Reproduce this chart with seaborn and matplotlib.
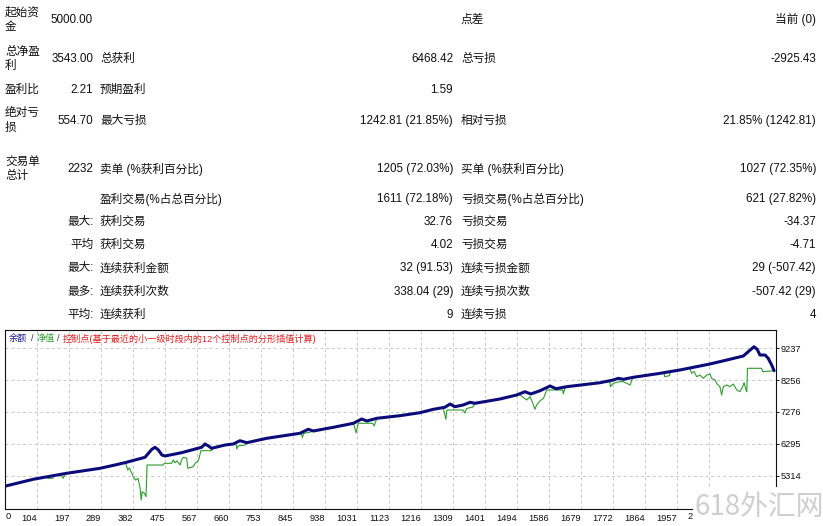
import seaborn as sns
import matplotlib.pyplot as plt
from matplotlib.patches import Rectangle

# ---- summary table ----
top_labels = ["起始资\n金", "总净盈\n利", "盈利比", "绝对亏\n损", "交易单\n总计"]
top_values = ["5000.00", "3543.00", "2.21", "554.70", "2232"]
mid_labels = ["", "总获利", "预期盈利", "最大亏损", "卖单 (%获利百分比)"]
mid_values = ["", "6468.42", "1.59", "1242.81 (21.85%)", "1205 (72.03%)"]
right_labels = ["点差", "总亏损", "", "相对亏损", "买单 (%获利百分比)"]
right_values = ["当前 (0)", "-2925.43", "", "21.85% (1242.81)", "1027 (72.35%)"]

prefixes = ["", "最大:", "平均", "最大:", "最多:", "平均:"]
win_labels = ["盈利交易(%占总百分比)", "获利交易", "获利交易", "连续获利金额", "连续获利次数", "连续获利"]
win_values = ["1611 (72.18%)", "32.76", "4.02", "32 (91.53)", "338.04 (29)", "9"]
loss_labels = ["亏损交易(%占总百分比)", "亏损交易", "亏损交易", "连续亏损金额", "连续亏损次数", "连续亏损"]
loss_values = ["621 (27.82%)", "-34.37", "-4.71", "29 (-507.42)", "-507.42 (29)", "4"]

# ---- balance / equity curves (trade number, account value) ----
balance_x = [10, 92, 189, 286, 329, 358, 416, 426, 436, 445, 455, 465, 474, 522, 580,
             590, 600, 609, 648, 672, 691, 711, 769, 865, 889, 904, 962, 1020, 1044,
             1059, 1088, 1155, 1213, 1252, 1285, 1300, 1314, 1338, 1358, 1372, 1445,
             1493, 1517, 1534, 1561, 1590, 1607, 1638, 1735, 1773, 1788, 1802, 1831,
             1909, 1966, 2053, 2102, 2150, 2164, 2181, 2190, 2198, 2213, 2222, 2232, 2239]
balance_y = [5000, 5213, 5397, 5550, 5651, 5722, 5887, 6010, 6133, 6194, 6111, 5958, 5927,
             6028, 6194, 6295, 6234, 6163, 6264, 6295, 6396, 6335, 6470, 6623, 6746, 6694,
             6807, 6930, 7061, 7000, 7083, 7163, 7255, 7359, 7420, 7521, 7438, 7491, 7573,
             7543, 7675, 7797, 7898, 7828, 7929, 8073, 7990, 8052, 8174, 8257, 8309, 8278,
             8340, 8462, 8564, 8747, 8870, 8993, 9124, 9278, 9198, 9023, 9023, 8922, 8717, 8543]

equity_x = [10, 92, 130, 135, 149, 152, 172, 179, 184, 189, 286, 329, 360, 366, 371, 378,
            382, 389, 396, 402, 405, 408, 414, 419, 422, 469, 472, 493, 498, 503, 509, 518,
            522, 527, 537, 540, 556, 561, 569, 572, 578, 609, 612, 648, 672, 681, 682, 686,
            706, 711, 769, 865, 869, 872, 876, 895, 904, 962, 1020, 1028, 1034, 1076, 1080,
            1086, 1088, 1155, 1213, 1252, 1280, 1288, 1291, 1338, 1343, 1348, 1366, 1372,
            1445, 1493, 1498, 1503, 1522, 1532, 1540, 1546, 1551, 1561, 1571, 1580, 1627,
            1628, 1633, 1638, 1735, 1763, 1765, 1773, 1787, 1801, 1822, 1827, 1831, 1909,
            1920, 1922, 1936, 1938, 1966, 1995, 2000, 2007, 2015, 2024, 2034, 2044, 2053,
            2058, 2068, 2074, 2082, 2087, 2092, 2102, 2111, 2121, 2131, 2140, 2148, 2152,
            2158, 2160, 2162, 2203, 2206, 2239]
equity_y = [5000, 5213, 5290, 5240, 5245, 5320, 5360, 5243, 5370, 5397, 5550, 5651, 5722,
            5498, 5559, 5397, 5293, 5191, 5237, 4937, 4578, 4833, 4784, 4680, 5651, 5651,
            5703, 5703, 5805, 5722, 5774, 5651, 5805, 5887, 5857, 5550, 5599, 5703, 5752,
            5826, 6090, 6090, 6170, 6264, 6295, 6264, 6142, 6234, 6264, 6335, 6470, 6623,
            6632, 6494, 6620, 6660, 6694, 6807, 6930, 6641, 6930, 6930, 6847, 7031, 7083,
            7163, 7255, 7359, 7405, 7052, 7337, 7337, 7245, 7383, 7429, 7543, 7675, 7797,
            7815, 7797, 7644, 7745, 7543, 7359, 7491, 7622, 7696, 7950, 7950, 7828, 8003,
            8052, 8174, 8205, 8052, 8156, 8196, 8210, 8104, 8257, 8340, 8462, 8480, 8360,
            8390, 8510, 8564, 8620, 8462, 8517, 8358, 8410, 8309, 8410, 8441, 8309, 8257,
            8134, 8052, 7797, 8052, 8104, 8052, 8134, 7950, 7898, 8052, 8174, 7950, 7898,
            8616, 8616, 8511, 8543]

x_ticks = [104, 197, 289, 382, 475, 567, 660, 753, 845, 938, 1031, 1123, 1216, 1309,
           1401, 1494, 1586, 1679, 1772, 1864, 1957, 2050]
# last label is cut off by the watermark in the original, only "2" shows
x_tick_labels = [str(v) for v in x_ticks[:-1]] + [""]
y_ticks = [5314, 6295, 7276, 8256, 9237]

W, H = 823, 526


def fx(x):
    return x / W


def fy(y):
    return 1 - y / H


sns.set_theme(style="white")
FONT = ["Liberation Sans", "Noto Sans CJK SC"]
plt.rcParams["font.family"] = FONT

fig = plt.figure(figsize=(W / 100, H / 100), dpi=100)
fig.patch.set_facecolor("white")

fs = 8.4
ink = "#111111"
top_rows_y = [20, 59, 90, 120.7, 169]
for i, yy in enumerate(top_rows_y):
    fig.text(fx(5), fy(yy), top_labels[i], ha="left", va="center", fontsize=fs,
             linespacing=1.3, color=ink, multialignment="left")
    fig.text(fx(93), fy(yy), top_values[i], ha="right", va="center", fontsize=fs, color=ink)
    fig.text(fx(100), fy(yy), mid_labels[i], ha="left", va="center", fontsize=fs, color=ink)
    fig.text(fx(453), fy(yy), mid_values[i], ha="right", va="center", fontsize=fs, color=ink)
    fig.text(fx(461), fy(yy), right_labels[i], ha="left", va="center", fontsize=fs, color=ink)
    fig.text(fx(816), fy(yy), right_values[i], ha="right", va="center", fontsize=fs, color=ink)

bottom_rows_y = [199, 222, 245, 268.5, 292, 314.5]
for i, yy in enumerate(bottom_rows_y):
    fig.text(fx(94), fy(yy), prefixes[i], ha="right", va="center", fontsize=fs, color=ink)
    fig.text(fx(100), fy(yy), win_labels[i], ha="left", va="center", fontsize=fs, color=ink)
    fig.text(fx(453), fy(yy), win_values[i], ha="right", va="center", fontsize=fs, color=ink)
    fig.text(fx(461), fy(yy), loss_labels[i], ha="left", va="center", fontsize=fs, color=ink)
    fig.text(fx(816), fy(yy), loss_values[i], ha="right", va="center", fontsize=fs, color=ink)

# ---- chart ----
ax = fig.add_axes([fx(5), fy(509), (776 - 5) / W, (509 - 330) / H])
ax.set_facecolor("white")

sns.lineplot(x=equity_x, y=equity_y, ax=ax, color="#2e9e2e", linewidth=0.8,
             sort=False, estimator=None)
sns.lineplot(x=balance_x, y=balance_y, ax=ax, color="#0b0b7a", linewidth=2.2,
             sort=False, estimator=None)

ax.set_xlim(10.4, 2244.6)
ax.set_ylim(4302, 9790)
ax.set_xticks(x_ticks)
ax.set_xticklabels(x_tick_labels)
ax.set_yticks(y_ticks)
ax.set_yticklabels([str(v) for v in y_ticks])
ax.yaxis.tick_right()
ax.tick_params(axis="both", labelsize=6.7, length=2, width=0.7, colors="#111111",
               direction="out")
ax.tick_params(axis="x", pad=1.5)
ax.tick_params(axis="y", pad=1.5)
for lab in ax.get_xticklabels():
    lab.set_ha("right")
ax.grid(True, color="#c8c8c8", linestyle=(0, (3, 3)), linewidth=0.7)
for sp in ax.spines.values():
    sp.set_color("#111111")
    sp.set_linewidth(0.8)
ax.set_xlabel("")
ax.set_ylabel("")

fig.text(fx(6), fy(516.5), "0", ha="left", va="center", fontsize=6.7, color=ink)
fig.text(fx(688), fy(516.5), "2", ha="left", va="center", fontsize=6.7, color=ink)

# chart caption
cap_y = fy(338.5)
cap_fs = 6.6
fig.text(fx(9), cap_y, "余额", color="#1a1a90", fontsize=cap_fs, va="center", ha="left")
fig.text(fx(30.5), cap_y, "/", color="#333333", fontsize=cap_fs, va="center", ha="left")
fig.text(fx(36.5), cap_y, "净值", color="#2e9e2e", fontsize=cap_fs, va="center", ha="left")
fig.text(fx(57), cap_y, "/", color="#333333", fontsize=cap_fs, va="center", ha="left")
fig.text(fx(63), cap_y, "控制点(基于最近的小一级时段内的12个控制点的分形插值计算)",
         color="#e02020", fontsize=cap_fs, va="center", ha="left")

# watermark
fig.patches.append(Rectangle((fx(693), 0), 1 - fx(693), fy(487), transform=fig.transFigure,
                             facecolor="white", edgecolor="none", zorder=10))
fig.text(fx(759), fy(507), "618外汇网", ha="center", va="center", fontsize=20,
         color="#cfcfcf", zorder=11, family=["Noto Sans CJK SC"])

fig.savefig("out.png", dpi=100)
